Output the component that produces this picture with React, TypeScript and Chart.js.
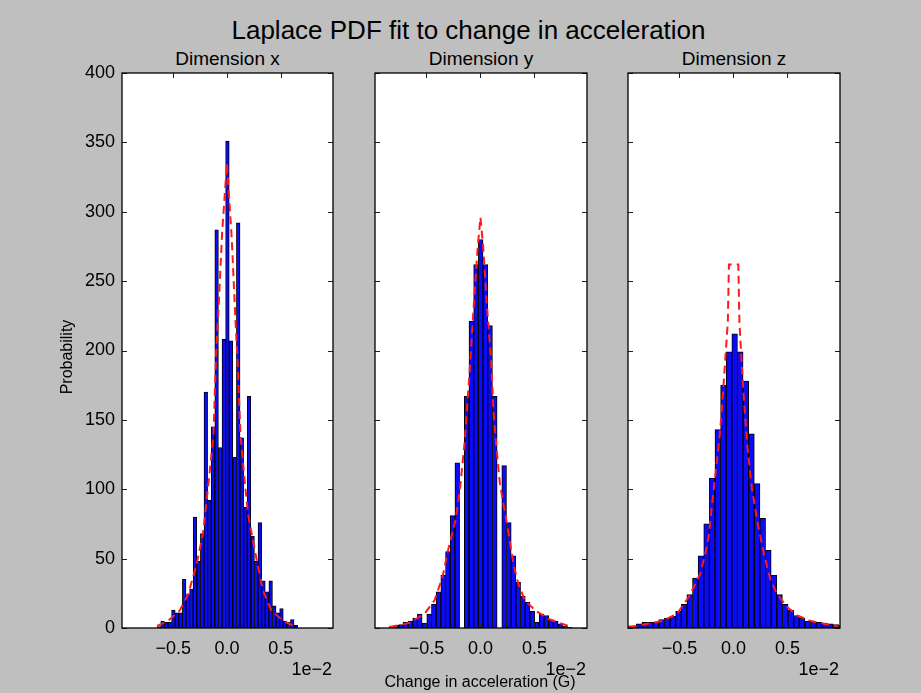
import React, { useEffect, useRef } from "react";
import { Chart, registerables } from "chart.js";

Chart.register(...registerables);

const FONT = "'Liberation Sans', Arial, Helvetica, sans-serif";

// ---- shared axis data ----
const xTickValues = [-0.5, 0, 0.5];
const yTickValues = [0, 50, 100, 150, 200, 250, 300, 350, 400];
const xMin = -0.976;
const xMax = 0.986;
const yMin = 0;
const yMax = 400;

// ---- Dimension x ----
const binStartX = -0.649;
const binWidthX = 0.0335;
const countsX = [
  1, 5, 4, 4, 13, 11, 11, 35, 24, 28, 80, 48, 68, 170, 92, 145, 287, 130, 208,
  351,
  207, 123, 292, 137, 87, 167, 66, 48, 76, 34, 26, 34, 16, 11, 14, 5, 4, 6, 2,
];
const fitXPos = [
  -0.65, -0.55, -0.44, -0.36, -0.285, -0.223, -0.161, -0.125, -0.1, -0.077, -0.045, 0.0,
  0.045, 0.077, 0.1, 0.125, 0.165, 0.196, 0.242, 0.289, 0.335, 0.413, 0.52, 0.63,
];
const fitXVal = [
  1.5, 5, 12.5, 24.5, 45, 68, 112, 140, 200, 232, 285, 335,
  280, 225, 190, 140, 106, 82, 63, 44, 27, 12.5, 5.3, 1.2,
];

// ---- Dimension y ----
const binStartY = -0.844;
const binWidthY = 0.0434;
const countsY = [
  1, 2, 2.5, 4, 5, 7, 10, 3.6, 10, 17, 26, 38, 55, 81, 119, 0, 167, 221, 262,
  280,
  262, 218, 167, 0, 117, 76, 52, 33, 23, 18.5, 12, 4, 10, 9, 5.8, 4.8, 3, 1.4, 0.5,
];
const fitYPos = [
  -0.84, -0.66, -0.52, -0.425, -0.35, -0.3, -0.23, -0.19, -0.145, -0.1, -0.06, -0.025, 0.0,
  0.025, 0.06, 0.097, 0.122, 0.15, 0.18, 0.265, 0.305, 0.35, 0.41, 0.51, 0.63, 0.72, 0.83,
];
const fitYVal = [
  0.7, 3.6, 10, 20, 37, 56, 78, 100, 135, 185, 235, 275, 296,
  275, 232, 195, 155, 128, 104, 66, 46, 32, 20, 12.5, 6.5, 4, 1,
];

// ---- Dimension z ----
const binStartZ = -1.003;
const binWidthZ = 0.052;
const countsZ = [
  1.5, 1.5, 3, 4, 4, 4, 6, 7, 8.5, 12, 17, 24, 36, 52, 75, 108, 143, 175, 199,
  212,
  199, 178, 140, 104, 79, 56, 38, 24, 17, 13, 9, 7, 5, 4.5, 4, 3.6, 3, 2.4, 1.7,
];
const fitZPos = [
  -0.97, -0.88, -0.663, -0.524, -0.417, -0.37, -0.308, -0.262, -0.231, -0.194, -0.154, -0.123,
  -0.098, -0.077, -0.052, -0.042, 0.045, 0.055, 0.075, 0.1, 0.13, 0.17, 0.22, 0.283, 0.345,
  0.407, 0.5, 0.59, 0.716, 0.84, 0.97,
];
const fitZVal = [
  0.5, 1.7, 5, 10, 22, 29, 39, 53, 65, 92, 120, 142,
  168, 192, 221, 262, 262, 221, 192, 161, 130, 101, 77, 53, 34,
  24, 15, 9, 5, 3, 1,
];

const panelTitles = ["Dimension x", "Dimension y", "Dimension z"];

// layout of each plot frame (pixels)
const PLOT_TOP = 73;
const PLOT_BOTTOM = 628;
const panels = [
  { left: 122, right: 333 },
  { left: 375, right: 587 },
  { left: 628, right: 840 },
];
const AXIS_W = 60;
const AXIS_H = 45;
const PAD_T = 10;
const PAD_R = 10;

const fmtX = (v: number) => {
  if (Math.abs(v) < 1e-9) return "0.0";
  return (v < 0 ? "\u2212" : "") + Math.abs(v).toFixed(1);
};

const framePlugin = {
  id: "mplFrame",
  beforeDatasetsDraw(chart: any) {
    const { ctx, chartArea } = chart;
    ctx.save();
    ctx.fillStyle = "#ffffff";
    ctx.fillRect(chartArea.left, chartArea.top, chartArea.right - chartArea.left, chartArea.bottom - chartArea.top);
    ctx.restore();
  },
  afterDatasetsDraw(chart: any) {
    const { ctx, chartArea } = chart;
    const xs = chart.scales.x;
    const ys = chart.scales.y;
    const { left, right, top, bottom } = chartArea;
    ctx.save();
    ctx.strokeStyle = "#222222";
    ctx.lineWidth = 1;
    const L = 5;
    ctx.beginPath();
    for (const v of xTickValues) {
      const px = Math.round(xs.getPixelForValue(v)) + 0.5;
      ctx.moveTo(px, bottom);
      ctx.lineTo(px, bottom - L);
      ctx.moveTo(px, top);
      ctx.lineTo(px, top + L);
    }
    for (const v of yTickValues) {
      const py = Math.round(ys.getPixelForValue(v)) + 0.5;
      ctx.moveTo(left, py);
      ctx.lineTo(left + L, py);
      ctx.moveTo(right, py);
      ctx.lineTo(right - L, py);
    }
    ctx.stroke();
    ctx.strokeStyle = "#000000";
    ctx.lineWidth = 1.3;
    ctx.strokeRect(left, top, right - left, bottom - top);
    ctx.restore();
  },
};

function HistPanel(props: {
  left: number;
  right: number;
  binStart: number;
  binWidth: number;
  counts: number[];
  fitX: number[];
  fitY: number[];
  showY: boolean;
}) {
  const ref = useRef<HTMLCanvasElement | null>(null);
  const width = props.right - props.left + AXIS_W + PAD_R;
  const height = PLOT_BOTTOM - PLOT_TOP + PAD_T + AXIS_H;

  useEffect(() => {
    if (!ref.current) return;
    const bars = props.counts.map((c, i) => ({ x: props.binStart + props.binWidth * (i + 0.5), y: c }));
    const line = props.fitX.map((x, i) => ({ x, y: props.fitY[i] }));
    const chart = new Chart(ref.current, {
      type: "bar",
      data: {
        datasets: [
          {
            type: "line",
            data: line as any,
            borderColor: "#ff1a1a",
            borderWidth: 2,
            borderDash: [8, 5],
            pointRadius: 0,
            fill: false,
            tension: 0,
            clip: 0,
            order: 0,
          } as any,
          {
            type: "bar",
            data: bars as any,
            backgroundColor: "#0a0aff",
            borderColor: "#000000",
            borderWidth: 1,
            borderSkipped: false,
            barPercentage: 1,
            categoryPercentage: 1,
            clip: 0,
            order: 1,
          } as any,
        ],
      },
      options: {
        animation: false,
        responsive: false,
        devicePixelRatio: 1,
        layout: { padding: { top: PAD_T, right: PAD_R, left: 0, bottom: 0 } },
        plugins: { legend: { display: false }, tooltip: { enabled: false }, title: { display: false } },
        events: [],
        scales: {
          x: {
            type: "linear",
            min: xMin,
            max: xMax,
            offset: false,
            grid: { display: false, drawTicks: false },
            border: { display: false },
            ticks: {
              font: { family: FONT, size: 18 },
              color: "#000000",
              padding: 10,
              maxRotation: 0,
              autoSkip: false,
              callback: (v: any) => fmtX(Number(v)),
            },
            afterBuildTicks: (axis: any) => {
              axis.ticks = xTickValues.map((v) => ({ value: v }));
            },
            afterFit: (axis: any) => {
              axis.height = AXIS_H;
              axis.paddingLeft = 0;
              axis.paddingRight = 0;
              axis.paddingTop = 0;
              axis.paddingBottom = 0;
            },
          },
          y: {
            type: "linear",
            min: yMin,
            max: yMax,
            grid: { display: false, drawTicks: false },
            border: { display: false },
            ticks: {
              display: props.showY,
              font: { family: FONT, size: 18 },
              color: "#000000",
              padding: 7,
              autoSkip: false,
              callback: (v: any) => String(v),
            },
            afterBuildTicks: (axis: any) => {
              axis.ticks = yTickValues.map((v) => ({ value: v }));
            },
            afterFit: (axis: any) => {
              axis.width = AXIS_W;
              axis.paddingTop = 0;
              axis.paddingBottom = 0;
              axis.paddingLeft = 0;
              axis.paddingRight = 0;
            },
          },
        },
      },
      plugins: [framePlugin],
    } as any);
    return () => chart.destroy();
  }, []);

  return (
    <canvas
      ref={ref}
      width={width}
      height={height}
      style={{
        position: "absolute",
        left: props.left - AXIS_W,
        top: PLOT_TOP - PAD_T,
        width,
        height,
      }}
    />
  );
}

const textBase: React.CSSProperties = {
  position: "absolute",
  fontFamily: FONT,
  color: "#000",
  whiteSpace: "nowrap",
  lineHeight: 1,
};

export default function App() {
  const data = [
    { start: binStartX, width: binWidthX, counts: countsX, fx: fitXPos, fy: fitXVal },
    { start: binStartY, width: binWidthY, counts: countsY, fx: fitYPos, fy: fitYVal },
    { start: binStartZ, width: binWidthZ, counts: countsZ, fx: fitZPos, fy: fitZVal },
  ];
  return (
    <div
      style={{
        position: "fixed",
        left: 0,
        top: 0,
        width: 921,
        height: 693,
        background: "#bfbfbf",
        overflow: "hidden",
      }}
    >
      <div style={{ ...textBase, fontSize: 26, left: 0, width: 921, textAlign: "center", top: 17, paddingLeft: 16, boxSizing: "border-box" }}>
        Laplace PDF fit to change in acceleration
      </div>
      {panels.map((p, i) => (
        <React.Fragment key={i}>
          <div
            style={{
              ...textBase,
              fontSize: 19,
              left: p.left,
              width: p.right - p.left,
              textAlign: "center",
              top: 49,
            }}
          >
            {panelTitles[i]}
          </div>
          <HistPanel
            left={p.left}
            right={p.right}
            binStart={data[i].start}
            binWidth={data[i].width}
            counts={data[i].counts}
            fitX={data[i].fx}
            fitY={data[i].fy}
            showY={i === 0}
          />
          <div
            style={{
              ...textBase,
              fontSize: 18,
              left: p.right - 101,
              width: 100,
              textAlign: "right",
              top: 660,
            }}
          >
            1e{"\u2212"}2
          </div>
        </React.Fragment>
      ))}
      <div
        style={{
          ...textBase,
          fontSize: 16,
          left: 67 - 60,
          top: 357 - 8,
          width: 120,
          height: 16,
          textAlign: "center",
          transform: "rotate(-90deg)",
          transformOrigin: "60px 8px",
        }}
      >
        Probability
      </div>
      <div style={{ ...textBase, fontSize: 16, left: 380, width: 200, textAlign: "center", top: 673.5 }}>
        Change in acceleration (G)
      </div>
    </div>
  );
}
